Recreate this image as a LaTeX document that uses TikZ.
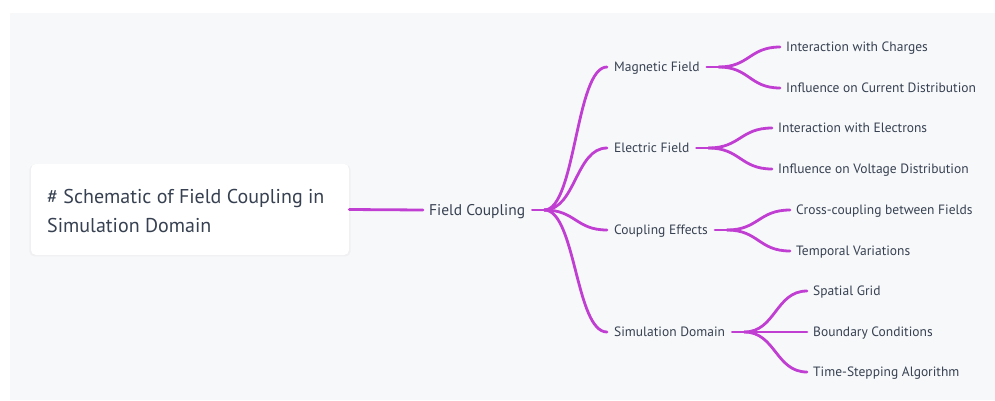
\documentclass[tikz,border=0pt]{standalone}
\usepackage{fontspec}
\setmainfont{PT Sans}
\usetikzlibrary{calc,shadows}
\definecolor{bgc}{HTML}{F7F8FA}
\definecolor{txt}{HTML}{374151}
\definecolor{lnk}{HTML}{C03FD2}
\newcommand\mmlink[2]{\draw[link] let \p1=(#1), \p2=(#2) in (\p1) .. controls ({(\x1+\x2)/2},\y1) and ({(\x1+\x2)/2},\y2) .. (\p2);}
\begin{document}
\begin{tikzpicture}[x=1pt,y=-1pt,
  link/.style={draw=lnk,line width=2.8pt,line cap=round},
  rootbox/.style={fill=white,rounded corners=5pt,minimum width=318pt,minimum height=91pt,inner sep=0pt,
    drop shadow={opacity=0.06,shadow xshift=0pt,shadow yshift=-1pt,shadow scale=1.01}},
  roottext/.style={text=txt,font=\fontsize{20}{29}\selectfont,align=left,inner sep=0pt},
  lvlzero/.style={text=txt,font=\fontsize{15.5}{18}\selectfont,inner sep=0pt,text height=10.8pt,text depth=0pt,anchor=west},
  lvlone/.style={text=txt,font=\fontsize{13.5}{15}\selectfont,inner sep=0pt,text height=9.5pt,text depth=0pt,anchor=west},
]
\useasboundingbox (0,0) rectangle (995,400);
\fill[white] (0,0) rectangle (995,400);
\fill[bgc] (10,13) rectangle (995,400);

\node[rootbox] (root) at (190,209.5) {};
\node[roottext,anchor=base west] (roottxt) at (47,232) {\# Schematic of Field Coupling in\\Simulation Domain};

\node[lvlzero] (fc) at (429,210) {Field Coupling};

\node[lvlone] (mag) at (614,67) {Magnetic Field};
\node[lvlone] (ele) at (614,148) {Electric Field};
\node[lvlone] (cou) at (614,230) {Coupling Effects};
\node[lvlone] (sim) at (614,332) {Simulation Domain};

\node[lvlone] (m1) at (786,47) {Interaction with Charges};
\node[lvlone] (m2) at (786,88) {Influence on Current Distribution};
\node[lvlone] (e1) at (778,128) {Interaction with Electrons};
\node[lvlone] (e2) at (778,169) {Influence on Voltage Distribution};
\node[lvlone] (c1) at (796,210) {Cross-coupling between Fields};
\node[lvlone] (c2) at (796,251) {Temporal Variations};
\node[lvlone] (s1) at (813,291) {Spatial Grid};
\node[lvlone] (s2) at (813,332) {Boundary Conditions};
\node[lvlone] (s3) at (813,372) {Time-Stepping Algorithm};

% root to field coupling
\draw[link] (root.east) -- ([xshift=-6pt]fc.west);

% field coupling branches
\coordinate (fcb) at ([xshift=19pt]fc.east);
\draw[link] ([xshift=7pt]fc.east) -- (fcb);
\mmlink{fcb}{[xshift=-7pt]mag.west}
\mmlink{fcb}{[xshift=-7pt]ele.west}
\mmlink{fcb}{[xshift=-7pt]cou.west}
\mmlink{fcb}{[xshift=-7pt]sim.west}

% magnetic
\coordinate (magb) at ([xshift=19pt]mag.east);
\draw[link] ([xshift=7pt]mag.east) -- (magb);
\mmlink{magb}{[xshift=-6pt]m1.west}
\mmlink{magb}{[xshift=-6pt]m2.west}

% electric
\coordinate (eleb) at ([xshift=19pt]ele.east);
\draw[link] ([xshift=7pt]ele.east) -- (eleb);
\mmlink{eleb}{[xshift=-6pt]e1.west}
\mmlink{eleb}{[xshift=-6pt]e2.west}

% coupling
\coordinate (coub) at ([xshift=19pt]cou.east);
\draw[link] ([xshift=7pt]cou.east) -- (coub);
\mmlink{coub}{[xshift=-6pt]c1.west}
\mmlink{coub}{[xshift=-6pt]c2.west}

% simulation
\coordinate (simb) at ([xshift=19pt]sim.east);
\draw[link] ([xshift=7pt]sim.east) -- (simb);
\mmlink{simb}{[xshift=-6pt]s1.west}
\mmlink{simb}{[xshift=-6pt]s2.west}
\mmlink{simb}{[xshift=-6pt]s3.west}
\end{tikzpicture}
\end{document}
